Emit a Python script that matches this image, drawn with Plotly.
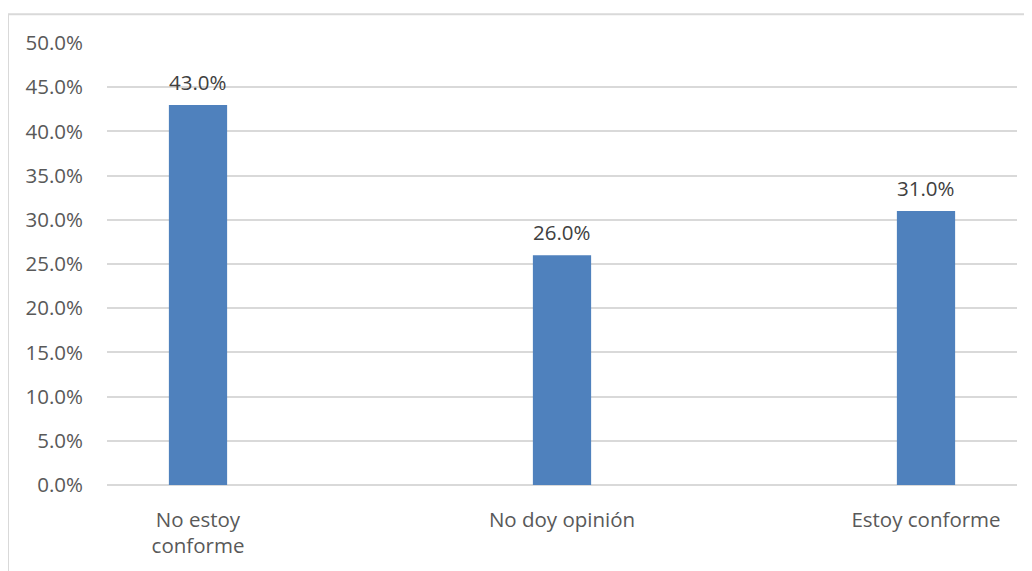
import plotly.graph_objects as go

categories = ["No estoy<br>conforme", "No doy opinión", "Estoy conforme"]
values = [43.0, 26.0, 31.0]
tick_vals = [0, 5, 10, 15, 20, 25, 30, 35, 40, 45, 50]
tick_text = [f"{v:.1f}%" for v in tick_vals]

font_family = "'Open Sans', Lato, sans-serif"
text_color = "#595959"
fsize = 20.5

x_idx = list(range(len(categories)))

fig = go.Figure()
fig.add_trace(go.Bar(
    x=x_idx, y=values, width=0.16,
    marker=dict(color="#4f81bd", line=dict(width=0)),
    hoverinfo="skip",
))

for xi, v in zip(x_idx, values):
    fig.add_annotation(x=xi, y=v, text=f"{v:.1f}%", showarrow=False,
                       yanchor="bottom", yshift=7,
                       font=dict(family=font_family, size=fsize, color="#404040"))

fig.update_layout(
    width=1024, height=563,
    margin=dict(l=99, r=15, t=35, b=84),
    paper_bgcolor="white", plot_bgcolor="white",
    showlegend=False,
    font=dict(family=font_family, size=fsize, color=text_color),
    xaxis=dict(
        tickmode="array", tickvals=x_idx, ticktext=categories,
        range=[-0.25, 2.25], showgrid=False, zeroline=False,
        showline=False, ticks="", ticklabelstandoff=20,
        tickfont=dict(family=font_family, size=fsize, color=text_color),
    ),
    yaxis=dict(
        tickmode="array", tickvals=tick_vals, ticktext=tick_text,
        range=[0, 50], showgrid=True, gridcolor="#d9d9d9", gridwidth=1.5,
        zeroline=True, zerolinecolor="#d9d9d9", zerolinewidth=1.5,
        showline=False, ticks="", ticklabelstandoff=23,
        tickfont=dict(family=font_family, size=fsize, color=text_color),
    ),
    shapes=[dict(type="rect", xref="paper", yref="paper",
                 x0=(8 - 107) / 910, x1=(1040 - 107) / 910,
                 y0=(487 - 580) / 444, y1=(487 - 14) / 444,
                 line=dict(color="#d9d9d9", width=2), layer="below")],
)

fig.write_html("out.html")
